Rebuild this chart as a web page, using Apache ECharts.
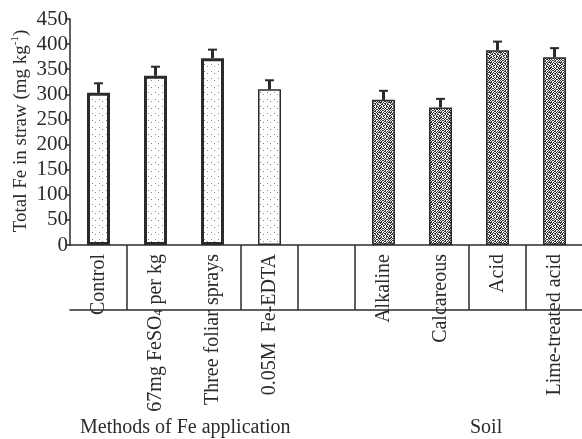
<!DOCTYPE html>
<html>
<head>
<meta charset="utf-8">
<script src="https://cdn.jsdelivr.net/npm/echarts@6/dist/echarts.min.js"></script>
<style>
  html, body { margin: 0; padding: 0; background: #fff; }
  #chart { width: 582px; height: 439px; }
</style>
</head>
<body>
<div id="chart"></div>
<script>
// categories (index 4 is the empty gap between the two groups)
var categories = ['Control', '67mg FeSO4 per kg', 'Three foliar sprays', '0.05M  Fe-EDTA', '',
  'Alkaline', 'Calcareous', 'Acid', 'Lime-treated acid'];
var values = [303, 337, 372, 310, null, 289, 274, 388, 374];
var errors = [19, 18, 17, 18, null, 18, 17, 17, 18];
var yTicks = [0, 50, 100, 150, 200, 250, 300, 350, 400, 450];
// table dividers sit on the left edge of these categories
var dividers = [1, 3, 4, 5, 7, 8];

var FONT = '"Liberation Serif", "DejaVu Serif", serif';
var INK = '#2b2b2b';

// fill textures
function makeTile(rows, dark, light) {
  var c = document.createElement('canvas');
  c.width = rows[0].length; c.height = rows.length;
  var ctx = c.getContext('2d');
  ctx.fillStyle = light; ctx.fillRect(0, 0, c.width, c.height);
  ctx.fillStyle = dark;
  rows.forEach(function (r, y) {
    for (var x = 0; x < r.length; x++) if (r[x] === '#') ctx.fillRect(x, y, 1, 1);
  });
  return c;
}
var dotTile = makeTile([
  '.......',
  '.#.....',
  '.......',
  '....#..',
  '.......',
  '.......',
  '.......'
], '#8a8a8a', '#ffffff');
var mazeTile = makeTile([
  '#.##.#..#.',
  '.#..##.#.#',
  '##.#..#.##',
  '#.#.##.#..',
  '.##..#.##.',
  '#..##.#..#',
  '.#.#..##.#',
  '##..#.#.#.',
  '#.##.#..##',
  '.#..#.##.#'
], '#333333', '#f4f4f4');

var barData = values.map(function (v, i) {
  if (v == null) return null;
  var soil = i > 4;
  return {
    value: v,
    itemStyle: {
      color: { image: soil ? mazeTile : dotTile, repeat: 'repeat' },
      borderColor: INK,
      borderWidth: soil ? 1.5 : (i === 3 ? 1.5 : 3)
    }
  };
});

var errData = [];
values.forEach(function (v, i) {
  if (v != null) errData.push([i, v, errors[i]]);
});

var chart = echarts.init(document.getElementById('chart'));
chart.setOption({
  animation: false,
  grid: { left: 70, right: -1, top: 19, bottom: 194, outerBoundsMode: 'none', containLabel: false },
  xAxis: [{
    type: 'category',
    data: categories,
    axisLine: { lineStyle: { color: INK, width: 1.5 } },
    axisTick: {
      show: true, length: 65,
      interval: function (i) { return dividers.indexOf(i) >= 0; },
      lineStyle: { color: INK, width: 1.5 }
    },
    axisLabel: {
      interval: 0, rotate: 90, margin: 9,
      fontFamily: FONT, fontSize: 20, color: INK,
      formatter: function (v) { return v.replace('FeSO4', 'FeSO{sub|4}'); },
      rich: { sub: { fontFamily: FONT, fontSize: 12, color: INK, padding: [0, 0, -7, 0] } }
    }
  }, {
    type: 'category',
    data: categories,
    position: 'bottom',
    offset: 65,
    axisLine: { lineStyle: { color: INK, width: 1.5 } },
    axisTick: { show: false },
    axisLabel: { show: false }
  }],
  yAxis: {
    type: 'value',
    min: yTicks[0], max: yTicks[yTicks.length - 1], interval: 50,
    axisLine: { show: true, lineStyle: { color: INK, width: 1.5 } },
    axisTick: { show: true, length: 3, lineStyle: { color: INK, width: 1.5 } },
    splitLine: { show: false },
    axisLabel: { fontFamily: FONT, fontSize: 21, color: INK, margin: 2 }
  },
  series: [{
    type: 'bar',
    barWidth: 23,
    data: barData
  }, {
    type: 'custom',
    data: errData,
    z: 1,
    renderItem: function (params, api) {
      var x = api.value(0);
      var base = api.coord([x, api.value(1)]);
      var top = api.coord([x, api.value(1) + api.value(2)]);
      return {
        type: 'group',
        children: [
          { type: 'line', shape: { x1: base[0], y1: base[1], x2: top[0], y2: top[1] }, style: { stroke: INK, lineWidth: 3 } },
          { type: 'line', shape: { x1: top[0] - 4.5, y1: top[1], x2: top[0] + 4.5, y2: top[1] }, style: { stroke: INK, lineWidth: 2 } }
        ]
      };
    }
  }],
  graphic: [
    {
      type: 'text', x: 21, y: 131, rotation: Math.PI / 2,
      style: {
        text: 'Total Fe in straw (mg kg{sup|-1})',
        font: '19px ' + FONT, fill: INK, align: 'center', verticalAlign: 'middle',
        rich: { sup: { fontFamily: FONT, fontSize: 11, fill: INK, padding: [0, 0, 12, 0] } }
      }
    },
    { type: 'text', left: 80, top: 418, style: { text: 'Methods of Fe application', font: '20px ' + FONT, fill: INK } },
    { type: 'text', left: 470, top: 418, style: { text: 'Soil', font: '20px ' + FONT, fill: INK } }
  ]
});
</script>
</body>
</html>
